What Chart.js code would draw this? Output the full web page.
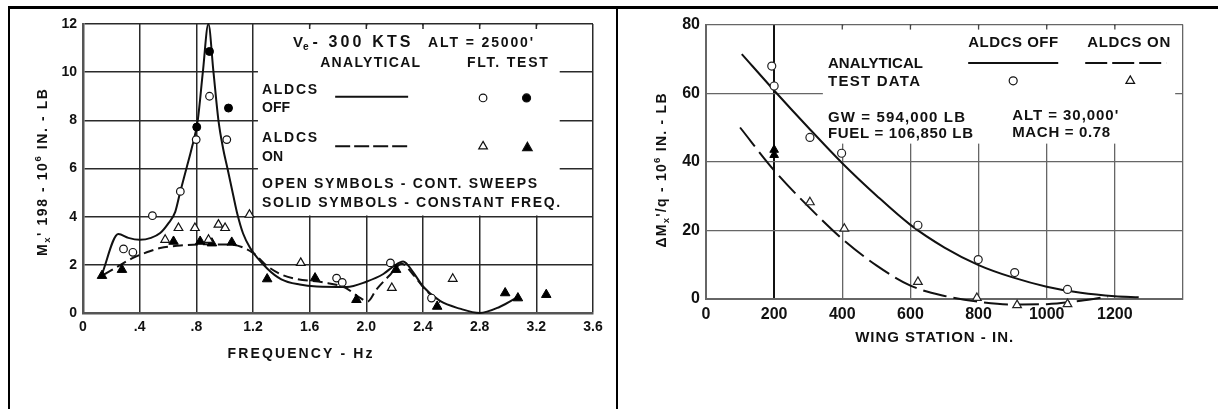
<!DOCTYPE html>
<html><head><meta charset="utf-8">
<script src="https://cdn.jsdelivr.net/npm/chart.js@4.4.1/dist/chart.umd.min.js"></script>
<style>
html,body{margin:0;padding:0;background:#fff;}
body{width:1218px;height:409px;position:relative;overflow:hidden;}
.frame{position:absolute;background:#000;}
canvas{position:absolute;}
</style></head><body>
<div class="frame" style="left:8px;top:6px;width:1210px;height:3px"></div>
<div class="frame" style="left:8px;top:6px;width:2px;height:403px"></div>
<div class="frame" style="left:616px;top:6px;width:2px;height:403px"></div>
<canvas id="left" width="606" height="400" style="left:10px;top:9px;width:606px;height:400px"></canvas>
<canvas id="right" width="599" height="400" style="left:619px;top:9px;width:599px;height:400px"></canvas>
<script>
// ---------------- DATA (left chart: moment vs frequency) ----------------
const freqTickLabels = ['0', '.4', '.8', '1.2', '1.6', '2.0', '2.4', '2.8', '3.2', '3.6'];
const momentTickLabels = ['0', '2', '4', '6', '8', '10', '12'];

const offAnalyticFreq = [0.13, 0.25, 0.32, 0.40, 0.48, 0.545, 0.60, 0.651, 0.687, 0.73, 0.77, 0.81, 0.846, 0.885, 0.921, 0.956, 0.99, 1.02, 1.06, 1.09, 1.13, 1.18, 1.30, 1.40, 1.53, 1.65, 1.86, 2.00, 2.12, 2.19, 2.26, 2.33, 2.40, 2.52, 2.66, 2.80, 2.94, 3.08];
const offAnalyticMoment = [1.55, 3.28, 3.12, 3.04, 3.12, 3.32, 3.7, 4.2, 5.05, 6.0, 6.9, 8.0, 10.0, 12.0, 10.0, 8.0, 6.8, 6.0, 4.9, 4.1, 3.3, 2.7, 1.85, 1.4, 1.18, 1.1, 1.08, 1.3, 1.62, 1.93, 2.14, 1.7, 1.1, 0.5, 0.18, 0.0, 0.25, 0.7];

const onAnalyticFreq = [0.15, 0.25, 0.357, 0.45, 0.545, 0.686, 0.85, 1.04, 1.2, 1.30, 1.40, 1.51, 1.70, 1.85, 1.95, 2.01, 2.07, 2.17, 2.25, 2.33, 2.42, 2.52];
const onAnalyticMoment = [1.6, 1.95, 2.3, 2.52, 2.7, 2.8, 2.85, 2.84, 2.5, 1.95, 1.6, 1.41, 1.27, 1.05, 0.65, 0.48, 0.97, 1.6, 2.05, 1.6, 0.95, 0.45];

const offSweepFreq = [0.286, 0.352, 0.49, 0.687, 0.799, 0.893, 1.015, 1.79, 1.83, 2.17, 2.46];
const offSweepMoment = [2.66, 2.52, 4.04, 5.05, 7.2, 9.0, 7.2, 1.45, 1.27, 2.08, 0.62];

const offConstFreq = [0.803, 0.893, 1.027];
const offConstMoment = [7.72, 10.86, 8.51];

const onSweepFreq = [0.58, 0.674, 0.79, 0.886, 0.956, 1.003, 1.175, 1.537, 2.18, 2.61];
const onSweepMoment = [3.04, 3.53, 3.53, 3.04, 3.67, 3.53, 4.08, 2.08, 1.04, 1.42];

const onConstFreq = [0.134, 0.275, 0.639, 0.827, 0.91, 1.05, 1.30, 1.638, 1.93, 2.21, 2.50, 2.98, 3.07, 3.27];
const onConstMoment = [1.55, 1.8, 2.97, 2.97, 2.9, 2.93, 1.41, 1.45, 0.55, 1.8, 0.27, 0.83, 0.62, 0.76];

// ---------------- DATA (right chart: delta moment vs wing station) ----------------
const stationTickLabels = ['0', '200', '400', '600', '800', '1000', '1200', ''];
const deltaTickLabels = ['0', '20', '40', '60', '80'];

const offCurveStation = [105, 200, 300, 400, 500, 600, 700, 800, 900, 1000, 1100, 1200, 1270];
const offCurveDelta = [71.4, 60.8, 50, 39.6, 30.2, 21.6, 15.0, 9.9, 6.3, 3.6, 1.8, 0.8, 0.5];

const onCurveStation = [100, 200, 300, 400, 500, 600, 700, 800, 900, 1000, 1100, 1180];
const onCurveDelta = [50, 37.5, 27, 17.5, 9.8, 3.9, 0.9, -0.8, -1.6, -1.5, -0.5, 0.7];

const offTestStation = [193, 200, 305, 398, 622, 799, 906, 1061];
const offTestDelta = [67.9, 62.1, 47.1, 42.5, 21.5, 11.5, 7.7, 2.8];

const onTestStation = [305, 406, 622, 795, 913, 1061];
const onTestDelta = [28.2, 20.5, 5, 0.3, -1.8, -1.5];

const onSolidStation = [200, 200];
const onSolidDelta = [43.5, 42];

// ---------------- helpers ----------------
const FAM = "'Liberation Sans', Arial, sans-serif";
const INK = '#111';
const pts = (xs, ys) => xs.map((x, i) => ({ x, y: ys[i] }));

function drawRuns(ctx, parts, x, y, width, size, align) {
  const canLS = 'letterSpacing' in ctx;
  let natural = 0, n = 0;
  const meas = parts.map(([t, k]) => {
    const s = k ? size * 0.68 : size;
    ctx.font = `bold ${s}px ${FAM}`;
    if (canLS) ctx.letterSpacing = '0px';
    const w = ctx.measureText(t).width;
    natural += w; n += t.length;
    return { t, k, s, w };
  });
  const sp = (canLS && width) ? (width - natural) / Math.max(1, n - 1) : 0;
  const total = natural + sp * (n - 1);
  let cx = align === 'center' ? x - total / 2 : x;
  ctx.textAlign = 'left';
  ctx.textBaseline = 'middle';
  ctx.fillStyle = INK;
  for (const m of meas) {
    ctx.font = `bold ${m.s}px ${FAM}`;
    if (canLS) ctx.letterSpacing = sp + 'px';
    const dy = m.k === 'sub' ? size * 0.3 : (m.k === 'sup' ? -size * 0.35 : 0);
    ctx.fillText(m.t, cx, y + dy);
    cx += m.w + sp * m.t.length;
  }
  if (canLS) ctx.letterSpacing = '0px';
}
function drawRotated(ctx, parts, x, y, width, size) {
  ctx.save();
  ctx.translate(x, y);
  ctx.rotate(-Math.PI / 2);
  drawRuns(ctx, parts, 0, 0, width, size, 'center');
  ctx.restore();
}
function marker(ctx, style, x, y, r, filled) {
  ctx.save();
  ctx.beginPath();
  if (style === 'circle') {
    ctx.arc(x, y, r, 0, Math.PI * 2);
  } else {
    let a = 0;
    ctx.moveTo(x + Math.sin(a) * r, y - Math.cos(a) * r);
    a += 2 * Math.PI / 3; ctx.lineTo(x + Math.sin(a) * r, y - Math.cos(a) * r);
    a += 2 * Math.PI / 3; ctx.lineTo(x + Math.sin(a) * r, y - Math.cos(a) * r);
    ctx.closePath();
  }
  ctx.fillStyle = filled ? '#000' : '#fff';
  ctx.fill();
  ctx.strokeStyle = '#111';
  ctx.lineWidth = 1.2;
  ctx.stroke();
  ctx.restore();
}
function sample(ctx, x0, x1, y, dash) {
  ctx.save();
  ctx.strokeStyle = '#111';
  ctx.lineWidth = 2;
  ctx.setLineDash(dash || []);
  ctx.beginPath(); ctx.moveTo(x0, y); ctx.lineTo(x1, y); ctx.stroke();
  ctx.restore();
}

// ---------------- left chart ----------------
const leftDecor = {
  id: 'leftDecor',
  beforeDatasetsDraw(chart) {
    const { ctx, chartArea: a, scales: { x, y } } = chart;
    ctx.save();
    ctx.fillStyle = '#fff';
    const x0 = x.getPixelForValue(1.235), x1 = x.getPixelForValue(3.365);
    const yt = a.top + 1.5, yb = y.getPixelForValue(4) - 1.2;
    ctx.fillRect(x0, yt, x1 - x0, yb - yt);
    ctx.strokeStyle = '#2a2a2a'; ctx.lineWidth = 1.5;
    for (const v of [1.6, 2.0, 2.4, 2.8, 3.2]) {
      const px = x.getPixelForValue(v);
      ctx.beginPath(); ctx.moveTo(px, a.top); ctx.lineTo(px, a.top + 5); ctx.stroke();
    }
    ctx.restore();
  },
  afterDraw(chart) {
    const { ctx, chartArea: a, scales: { x, y } } = chart;
    const X = v => x.getPixelForValue(v), Y = v => y.getPixelForValue(v);
    ctx.save();
    drawRuns(ctx, [['V', ''], ['e', 'sub']], X(1.483), Y(11.22), 0, 15);
    drawRuns(ctx, [['- 300 KTS', '']], X(1.62), Y(11.22), 98, 16);
    drawRuns(ctx, [["ALT = 25000'", '']], X(2.436), Y(11.22), 105, 14);
    drawRuns(ctx, [['ANALYTICAL', '']], X(1.674), Y(10.39), 100, 14);
    drawRuns(ctx, [['FLT. TEST', '']], X(2.710), Y(10.39), 81, 14);
    drawRuns(ctx, [['ALDCS', '']], X(1.264), Y(9.27), 55, 14);
    drawRuns(ctx, [['OFF', '']], X(1.264), Y(8.52), 0, 14);
    drawRuns(ctx, [['ALDCS', '']], X(1.264), Y(7.28), 55, 14);
    drawRuns(ctx, [['ON', '']], X(1.264), Y(6.49), 0, 14);
    drawRuns(ctx, [['OPEN SYMBOLS - CONT. SWEEPS', '']], X(1.264), Y(5.33), 275, 14);
    drawRuns(ctx, [['SOLID SYMBOLS - CONSTANT FREQ.', '']], X(1.264), Y(4.58), 298, 14);
    sample(ctx, X(1.78), X(2.295), Y(8.98));
    sample(ctx, X(1.78), X(2.295), Y(6.92), [15, 4]);
    marker(ctx, 'circle', X(2.824), Y(8.93), 3.8, false);
    marker(ctx, 'circle', X(3.131), Y(8.93), 4, true);
    marker(ctx, 'triangle', X(2.824), Y(6.92), 5, false);
    marker(ctx, 'triangle', X(3.137), Y(6.86), 5.5, true);
    // axis titles
    drawRuns(ctx, [['FREQUENCY - Hz', '']], X(1.532), a.bottom + 41, 145, 14, 'center');
    drawRotated(ctx, [['M', ''], ['x', 'sub'], ["' 198 - 10", ''], ['6', 'sup'], [' IN. - LB', '']], a.left - 40, Y(5.83), 167, 14);
    ctx.restore();
  }
};

const tickFontL = { family: FAM, size: 14, weight: 'bold' };
new Chart(document.getElementById('left'), {
  type: 'scatter',
  data: {
    datasets: [
      { label: 'ALDCS OFF analytical', data: pts(offAnalyticFreq, offAnalyticMoment), showLine: true, borderColor: '#111', borderWidth: 2, pointRadius: 0, cubicInterpolationMode: 'monotone', order: 2, clip: false },
      { label: 'ALDCS ON analytical', data: pts(onAnalyticFreq, onAnalyticMoment), showLine: true, borderColor: '#111', borderWidth: 2, borderDash: [10, 5], pointRadius: 0, cubicInterpolationMode: 'monotone', order: 2, clip: false },
      { label: 'ALDCS OFF cont. sweeps', data: pts(offSweepFreq, offSweepMoment), pointStyle: 'circle', pointRadius: 3.8, backgroundColor: '#fff', borderColor: '#111', borderWidth: 1.2, order: 1, clip: false },
      { label: 'ALDCS OFF constant freq.', data: pts(offConstFreq, offConstMoment), pointStyle: 'circle', pointRadius: 4, backgroundColor: '#000', borderColor: '#000', borderWidth: 1, order: 1, clip: false },
      { label: 'ALDCS ON cont. sweeps', data: pts(onSweepFreq, onSweepMoment), pointStyle: 'triangle', pointRadius: 5, backgroundColor: '#fff', borderColor: '#111', borderWidth: 1.2, order: 1, clip: false },
      { label: 'ALDCS ON constant freq.', data: pts(onConstFreq, onConstMoment), pointStyle: 'triangle', pointRadius: 5.5, backgroundColor: '#000', borderColor: '#000', borderWidth: 1, order: 1, clip: false }
    ]
  },
  options: {
    responsive: false, animation: false, devicePixelRatio: 1,
    layout: { padding: { left: 0, top: 15, right: 23, bottom: 56 } },
    plugins: { legend: { display: false }, tooltip: { enabled: false } },
    scales: {
      x: {
        type: 'linear', min: 0, max: 3.6,
        afterFit: s => { s.height = 40; },
        ticks: { stepSize: 0.4, autoSkip: false, maxRotation: 0, padding: 6, color: INK, font: tickFontL, callback: (v, i) => freqTickLabels[i] },
        grid: { color: '#2a2a2a', lineWidth: 1.5, drawTicks: false },
        border: { color: '#555', width: 2.5 }
      },
      y: {
        type: 'linear', min: 0, max: 12,
        afterFit: s => { s.width = 73; },
        ticks: { stepSize: 2, padding: 6, color: INK, font: tickFontL, callback: (v, i) => momentTickLabels[i] },
        grid: { color: '#2a2a2a', lineWidth: 1.5, drawTicks: false },
        border: { color: '#555', width: 2.5 }
      }
    }
  },
  plugins: [leftDecor]
});

// ---------------- right chart ----------------
const rightDecor = {
  id: 'rightDecor',
  beforeDatasetsDraw(chart) {
    const { ctx, chartArea: a, scales: { x, y } } = chart;
    ctx.save();
    ctx.fillStyle = '#fff';
    const x0 = x.getPixelForValue(343), x1 = x.getPixelForValue(1377);
    const yt = a.top + 1.5, yb = y.getPixelForValue(45.3);
    ctx.fillRect(x0, yt, x1 - x0, yb - yt);
    ctx.strokeStyle = '#444'; ctx.lineWidth = 1.3;
    for (const v of [400, 600, 800, 1000, 1200]) {
      const px = x.getPixelForValue(v);
      ctx.beginPath(); ctx.moveTo(px, a.top); ctx.lineTo(px, a.top + 5); ctx.stroke();
    }
    ctx.restore();
  },
  afterDraw(chart) {
    const { ctx, chartArea: a, scales: { x, y } } = chart;
    const X = v => x.getPixelForValue(v), Y = v => y.getPixelForValue(v);
    ctx.save();
    drawRuns(ctx, [['ANALYTICAL', '']], X(358), Y(68.55), 95, 15);
    drawRuns(ctx, [['TEST DATA', '']], X(358), Y(63.3), 92, 15);
    drawRuns(ctx, [['ALDCS OFF', '']], X(769.5), Y(74.65), 90, 15);
    drawRuns(ctx, [['ALDCS ON', '']], X(1119), Y(74.65), 83, 15);
    sample(ctx, X(769.5), X(1033.8), Y(68.84));
    sample(ctx, X(1113), X(1351), Y(68.84), [22, 5]);
    marker(ctx, 'circle', X(901.6), Y(63.6), 4, false);
    marker(ctx, 'triangle', X(1245.2), Y(63.6), 5, false);
    drawRuns(ctx, [['GW = 594,000 LB', '']], X(358), Y(52.87), 137, 15);
    drawRuns(ctx, [['FUEL = 106,850 LB', '']], X(358), Y(48.22), 145, 15);
    drawRuns(ctx, [["ALT = 30,000'", '']], X(898.7), Y(53.45), 106, 15);
    drawRuns(ctx, [['MACH = 0.78', '']], X(898.7), Y(48.51), 98, 15);
    drawRuns(ctx, [['WING STATION - IN.', '']], X(669.6), a.bottom + 39, 158, 15, 'center');
    drawRotated(ctx, [['\u0394M', ''], ['x', 'sub'], ["'/q - 10", ''], ['6', 'sup'], [' IN. - LB', '']], a.left - 44, Y(37.47), 154, 14);
    ctx.restore();
  }
};

const tickFontR = { family: FAM, size: 16, weight: 'bold' };
new Chart(document.getElementById('right'), {
  type: 'scatter',
  data: {
    datasets: [
      { label: 'ALDCS OFF analytical', data: pts(offCurveStation, offCurveDelta), showLine: true, borderColor: '#111', borderWidth: 2, pointRadius: 0, cubicInterpolationMode: 'monotone', order: 2, clip: false },
      { label: 'ALDCS ON analytical', data: pts(onCurveStation, onCurveDelta), showLine: true, borderColor: '#111', borderWidth: 2, borderDash: [24, 7], pointRadius: 0, cubicInterpolationMode: 'monotone', order: 2, clip: false },
      { label: 'ALDCS OFF test data', data: pts(offTestStation, offTestDelta), pointStyle: 'circle', pointRadius: 4, backgroundColor: '#fff', borderColor: '#222', borderWidth: 1.2, order: 1, clip: false },
      { label: 'ALDCS ON test data', data: pts(onTestStation, onTestDelta), pointStyle: 'triangle', pointRadius: 5, backgroundColor: '#fff', borderColor: '#222', borderWidth: 1.2, order: 1, clip: false },
      { label: 'ALDCS ON (solid)', data: pts(onSolidStation, onSolidDelta), pointStyle: 'triangle', pointRadius: 5, backgroundColor: '#000', borderColor: '#000', borderWidth: 1, order: 1, clip: false }
    ]
  },
  options: {
    responsive: false, animation: false, devicePixelRatio: 1,
    layout: { padding: { left: 0, top: 14, right: 35, bottom: 70 } },
    plugins: { legend: { display: false }, tooltip: { enabled: false } },
    scales: {
      x: {
        type: 'linear', min: 0, max: 1400,
        afterFit: s => { s.height = 40; },
        ticks: { stepSize: 200, autoSkip: false, maxRotation: 0, padding: 6, color: INK, font: tickFontR, callback: (v, i) => stationTickLabels[i] },
        grid: { color: c => (c.tick && c.tick.value === 200) ? '#111' : '#666', lineWidth: c => (c.tick && c.tick.value === 200) ? 2 : 1.3, drawTicks: false },
        border: { color: '#666', width: 2 }
      },
      y: {
        type: 'linear', min: 0, max: 80,
        afterFit: s => { s.width = 87; },
        ticks: { stepSize: 20, padding: 6, color: INK, font: tickFontR, callback: (v, i) => deltaTickLabels[i] },
        grid: { color: '#666', lineWidth: 1.3, drawTicks: false },
        border: { color: '#666', width: 2 }
      }
    }
  },
  plugins: [rightDecor]
});
</script>
</body></html>
